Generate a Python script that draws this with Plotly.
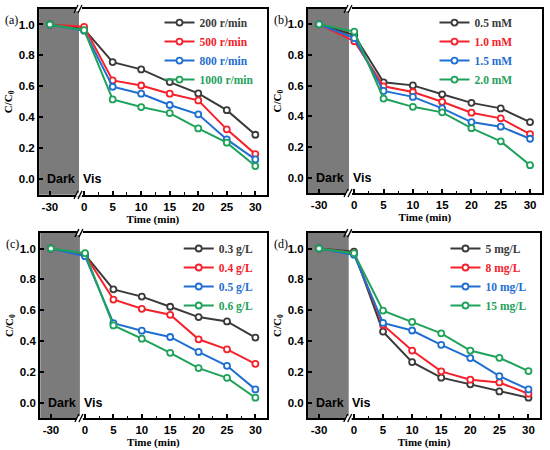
import plotly.graph_objects as go
from plotly.subplots import make_subplots

# time points (min); -30 is the dark adsorption point
time_min = [-30, 0, 5, 10, 15, 20, 25, 30]

# (a) stirring speed
speed_labels = ["200 r/min", "500 r/min", "800 r/min", "1000 r/min"]
speed_200 = [1.0, 0.97, 0.757, 0.71, 0.628, 0.555, 0.447, 0.288]
speed_500 = [1.0, 0.985, 0.639, 0.606, 0.553, 0.51, 0.323, 0.163]
speed_800 = [1.0, 0.96, 0.598, 0.553, 0.48, 0.42, 0.258, 0.129]
speed_1000 = [1.0, 0.963, 0.516, 0.467, 0.428, 0.329, 0.237, 0.086]

# (b) oxidant concentration
conc_labels = ["0.5 mM", "1.0 mM", "1.5 mM", "2.0 mM"]
conc_05 = [1.0, 0.93, 0.622, 0.602, 0.544, 0.488, 0.452, 0.363]
conc_10 = [1.0, 0.89, 0.596, 0.559, 0.495, 0.424, 0.387, 0.284]
conc_15 = [1.0, 0.91, 0.566, 0.527, 0.452, 0.363, 0.333, 0.254]
conc_20 = [1.0, 0.953, 0.516, 0.462, 0.426, 0.323, 0.237, 0.082]

# (c) catalyst dosage
dose_labels = ["0.3 g/L", "0.4 g/L", "0.5 g/L", "0.6 g/L"]
dose_03 = [1.0, 0.96, 0.735, 0.688, 0.622, 0.555, 0.527, 0.422]
dose_04 = [1.0, 0.96, 0.669, 0.609, 0.57, 0.411, 0.346, 0.252]
dose_05 = [1.0, 0.95, 0.516, 0.467, 0.426, 0.329, 0.239, 0.086]
dose_06 = [1.0, 0.97, 0.501, 0.415, 0.323, 0.224, 0.161, 0.032]

# (d) pollutant concentration
pol_labels = ["5 mg/L", "8 mg/L", "10 mg/L", "15 mg/L"]
pol_5 = [1.0, 0.98, 0.461, 0.263, 0.162, 0.119, 0.073, 0.032]
pol_8 = [1.0, 0.97, 0.504, 0.338, 0.203, 0.149, 0.131, 0.058]
pol_10 = [1.0, 0.96, 0.517, 0.468, 0.375, 0.289, 0.172, 0.086]
pol_15 = [1.0, 0.97, 0.597, 0.524, 0.45, 0.338, 0.291, 0.205]

x_ticks = [-30, 0, 5, 10, 15, 20, 25, 30]
y_ticks = [0.0, 0.2, 0.4, 0.6, 0.8, 1.0]

colors = ["#3a3a3a", "#f5212b", "#1f6fd1", "#1fa25a"]

# broken axis: the -30 point is drawn at a compressed slot left of 0
DARK_SLOT = -6
BREAK_AT = -0.9
X_RANGE = [-7.9, 32]


def xpos(t):
    return DARK_SLOT if t < 0 else t


panels = [
    ("(a)", speed_labels, [speed_200, speed_500, speed_800, speed_1000]),
    ("(b)", conc_labels, [conc_05, conc_10, conc_15, conc_20]),
    ("(c)", dose_labels, [dose_03, dose_04, dose_05, dose_06]),
    ("(d)", pol_labels, [pol_5, pol_8, pol_10, pol_15]),
]

x_domains = [[0.071, 0.485], [0.56, 0.985], [0.073, 0.485], [0.56, 0.982]]
y_domains = [[0.567, 0.98], [0.571, 0.98], [0.071, 0.482], [0.071, 0.482]]
legend_pos = [(0.29, 0.982), (0.79, 0.982), (0.325, 0.48), (0.81, 0.48)]

fig = make_subplots(rows=2, cols=2)

serif = "Liberation Serif, Times New Roman, serif"
sans = "Liberation Sans, Arial, sans-serif"

for i, (tag, labels, series) in enumerate(panels):
    r, c = i // 2 + 1, i % 2 + 1
    leg = "legend" if i == 0 else f"legend{i + 1}"
    for name, ys, col in zip(labels, series, colors):
        fig.add_trace(go.Scatter(
            x=[xpos(t) for t in time_min], y=ys,
            mode="lines+markers",
            name=f"<span style='color:{col}'>{name}</span>",
            line=dict(color=col, width=2),
            marker=dict(symbol="circle", size=6, color="white",
                        line=dict(color=col, width=1.8)),
            legend=leg,
        ), row=r, col=c)

    ax = "" if i == 0 else str(i + 1)
    fig.update_layout({
        f"xaxis{ax}": dict(
            domain=x_domains[i], range=X_RANGE,
            tickmode="array", tickvals=[xpos(t) for t in x_ticks],
            ticktext=[str(t) for t in x_ticks],
            ticks="inside", ticklen=4, tickwidth=1.5, tickcolor="black",
            minor=dict(tickvals=[t + 2.5 for t in x_ticks[1:-1]],
                       ticks="inside", ticklen=2.5, tickwidth=1.2, tickcolor="black"),
            showline=True, linewidth=2, linecolor="black", mirror=True,
            showgrid=False, zeroline=False,
            tickfont=dict(family=sans, size=11.5, color="black", weight="bold"),
            title=dict(text="<b>Time (min)</b>", standoff=2,
                       font=dict(family=serif, size=11, color="black")),
        ),
        f"yaxis{ax}": dict(
            domain=y_domains[i], range=[-0.1, 1.1],
            tickmode="array", tickvals=y_ticks,
            ticktext=[f"{v:.1f}" for v in y_ticks],
            ticks="inside", ticklen=4, tickwidth=1.5, tickcolor="black",
            showline=True, linewidth=2, linecolor="black", mirror=True,
            showgrid=False, zeroline=False,
            tickfont=dict(family=sans, size=11.5, color="black", weight="bold"),
            title=dict(text="<b>C/C<sub>0</sub></b>", standoff=4,
                       font=dict(family=serif, size=11, color="black")),
        ),
        leg: dict(
            x=legend_pos[i][0], y=legend_pos[i][1], xanchor="left", yanchor="top",
            bgcolor="rgba(0,0,0,0)", tracegroupgap=0, itemwidth=30,
            font=dict(family=serif, size=11.5, color="black", weight="bold"),
        ),
    })

    xr = f"x{ax}"
    yr = f"y{ax}"
    # dark (adsorption) region
    fig.add_shape(type="rect", xref=xr, yref=f"{yr} domain",
                  x0=X_RANGE[0], x1=BREAK_AT, y0=0, y1=1,
                  fillcolor="#7b7b7b", line=dict(width=0), layer="below")
    # axis break marks: a small gap in the frame with two slashes
    for yy in (0, 1):
        fig.add_shape(type="rect", xref=xr, yref=f"{yr} domain",
                      xsizemode="pixel", ysizemode="pixel",
                      xanchor=BREAK_AT, yanchor=yy,
                      x0=-3, x1=3, y0=-2, y1=2,
                      fillcolor="white", line=dict(width=0), layer="above")
        for dx in (-3, 1):
            fig.add_shape(type="line", xref=xr, yref=f"{yr} domain",
                          xsizemode="pixel", ysizemode="pixel",
                          xanchor=BREAK_AT, yanchor=yy,
                          x0=dx - 2, x1=dx + 2, y0=-4, y1=4,
                          line=dict(color="black", width=1.3), layer="above")
    fig.add_annotation(xref=xr, yref=yr, x=-6.9, y=0.0, text="<b>Dark</b>",
                       showarrow=False, xanchor="left",
                       font=dict(family=sans, size=12.5, color="black"))
    fig.add_annotation(xref=xr, yref=yr, x=-0.6, y=0.0, text="<b>Vis</b>",
                       showarrow=False, xanchor="left",
                       font=dict(family=sans, size=12.5, color="black"))
    # panel label
    fig.add_annotation(xref="paper", yref="paper",
                       x=x_domains[i][0] - 0.065, y=y_domains[i][1] - 0.005,
                       text=tag, showarrow=False, xanchor="left", yanchor="top",
                       font=dict(family=serif, size=12, color="black"))

fig.update_layout(
    width=550, height=450,
    margin=dict(l=0, r=0, t=0, b=0),
    plot_bgcolor="white", paper_bgcolor="white",
)

# the page's default body margin would push the 550x450 figure off-window
fig.write_html("out.html", config={"displayModeBar": False},
               post_script="document.body.style.margin='0';")
